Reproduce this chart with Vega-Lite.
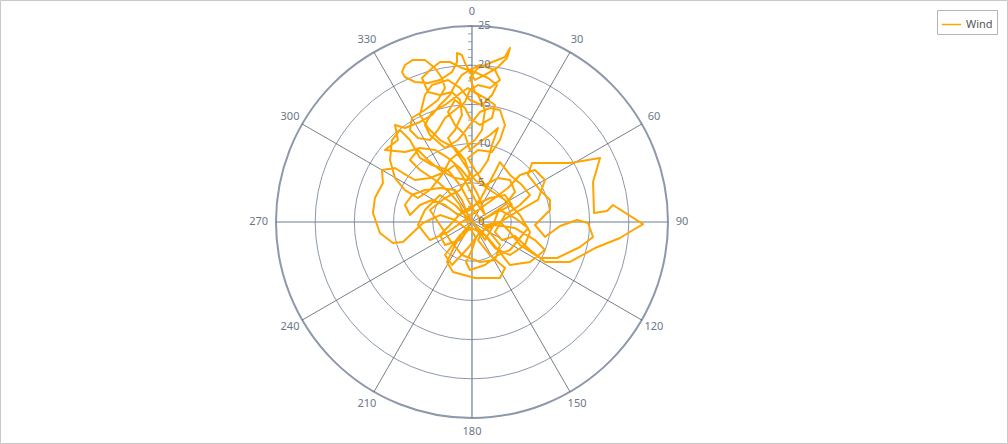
{
"$schema": "https://vega.github.io/schema/vega-lite/v6.json",
"width": 1007, "height": 443,
"autosize": {"type": "none"},
"padding": {"left": 0, "top": 0, "right": 1, "bottom": 1},
"config": {"view": {"stroke": "#c8c8c8", "strokeWidth": 1}, "font": "Noto Sans"},
"datasets": {
"rings": [{"r": 5}, {"r": 10}, {"r": 15}, {"r": 20}, {"r": 25}],
"spokes": [
{"a": 0, "x": 0, "y": 25, "x2": 0, "y2": -25},
{"a": 30, "x": 12.5, "y": 21.65, "x2": -12.5, "y2": -21.65},
{"a": 60, "x": 21.65, "y": 12.5, "x2": -21.65, "y2": -12.5},
{"a": 90, "x": 25, "y": 0, "x2": -25, "y2": 0},
{"a": 120, "x": 21.65, "y": -12.5, "x2": -21.65, "y2": 12.5},
{"a": 150, "x": 12.5, "y": -21.65, "x2": -12.5, "y2": 21.65}
],
"ticks": [{"v":1},{"v":2},{"v":3},{"v":4},{"v":5},{"v":6},{"v":7},{"v":8},{"v":9},{"v":10},{"v":11},{"v":12},{"v":13},{"v":14},{"v":15},{"v":16},{"v":17},{"v":18},{"v":19},{"v":20},{"v":21},{"v":22},{"v":23},{"v":24},{"v":25}],
"rlabels": [{"v": 0, "t": "0"}, {"v": 5, "t": "5"}, {"v": 10, "t": "10"}, {"v": 15, "t": "15"}, {"v": 20, "t": "20"}, {"v": 25, "t": "25"}],
"alabels": [
{"x": 0, "y": 26.8, "t": "0"},
{"x": 13.4, "y": 23.21, "t": "30"},
{"x": 23.21, "y": 13.4, "t": "60"},
{"x": 26.8, "y": 0, "t": "90"},
{"x": 23.21, "y": -13.4, "t": "120"},
{"x": 13.4, "y": -23.21, "t": "150"},
{"x": 0, "y": -26.8, "t": "180"},
{"x": -13.4, "y": -23.21, "t": "210"},
{"x": -23.21, "y": -13.4, "t": "240"},
{"x": -27.2, "y": 0, "t": "270"},
{"x": -23.21, "y": 13.4, "t": "300"},
{"x": -13.4, "y": 23.21, "t": "330"}
],
"wind": [
{"u":-0.26,"v":-0.38},{"u":-1.15,"v":-1.28},{"u":-2.17,"v":-2.93},{"u":-3.19,"v":-5.10},{"u":-2.42,"v":-6.38},
{"u":0.38,"v":-7.14},{"u":3.57,"v":-7.14},{"u":4.21,"v":-5.87},{"u":2.30,"v":-4.21},{"u":0.77,"v":-2.30},
{"u":1.66,"v":-0.77},{"u":3.57,"v":0},{"u":4.85,"v":-1.28},{"u":6.12,"v":-2.93},{"u":8.68,"v":-4.59},
{"u":10.85,"v":-4.59},{"u":13.78,"v":-3.19},{"u":15.44,"v":-1.91},{"u":14.80,"v":-0.13},{"u":13.40,"v":0.26},
{"u":11.23,"v":-0.51},{"u":9.31,"v":-1.91},{"u":8.04,"v":-0.38},{"u":9.95,"v":1.53},{"u":9.95,"v":2.81},
{"u":8.68,"v":4.08},{"u":7.14,"v":6.00},{"u":7.65,"v":7.53},{"u":12.50,"v":7.53},{"u":16.33,"v":8.17},
{"u":15.44,"v":5.10},{"u":15.57,"v":1.15},{"u":17.22,"v":1.40},{"u":17.99,"v":2.17},{"u":21.82,"v":-0.26},
{"u":20.54,"v":-1.02},{"u":18.88,"v":-2.04},{"u":15.69,"v":-3.32},{"u":12.50,"v":-5.10},{"u":9.31,"v":-5.10},
{"u":7.40,"v":-3.57},{"u":5.49,"v":-1.79},{"u":3.83,"v":-2.30},{"u":2.93,"v":-1.28},{"u":4.21,"v":0.89},
{"u":6.12,"v":2.17},{"u":7.40,"v":3.44},{"u":6.38,"v":4.72},{"u":4.85,"v":6.00},{"u":3.57,"v":7.65},
{"u":2.93,"v":6.38},{"u":2.04,"v":4.72},{"u":1.02,"v":2.81},{"u":-0.26,"v":1.53},{"u":-1.79,"v":0.89},
{"u":-3.44,"v":2.17},{"u":-5.10,"v":2.81},{"u":-6.63,"v":2.17},{"u":-7.91,"v":0.89},{"u":-8.55,"v":2.17},
{"u":-7.65,"v":3.44},{"u":-6.00,"v":4.08},{"u":-4.08,"v":4.34},{"u":-2.17,"v":4.08},{"u":-1.28,"v":2.81},
{"u":-0.51,"v":0.89},{"u":0.38,"v":-0.38},{"u":1.66,"v":-2.30},{"u":2.55,"v":-0.77},{"u":3.32,"v":1.28},
{"u":5.10,"v":2.17},{"u":4.21,"v":3.44},{"u":2.30,"v":3.06},{"u":0.38,"v":2.17},{"u":-1.28,"v":1.28},
{"u":-2.81,"v":-0.38},{"u":-4.08,"v":-1.66},{"u":-3.44,"v":-2.93},{"u":-1.53,"v":-2.30},{"u":-0.51,"v":-1.02},
{"u":-2.17,"v":0.26},{"u":-4.08,"v":0.89},{"u":-6.25,"v":-0.13},{"u":-8.80,"v":-2.55},{"u":-10.08,"v":-2.68},
{"u":-11.74,"v":-1.40},{"u":-12.63,"v":1.15},{"u":-12.38,"v":3.06},{"u":-11.36,"v":4.98},{"u":-11.48,"v":6.63},
{"u":-9.82,"v":6.89},{"u":-8.80,"v":6.25},{"u":-7.27,"v":5.36},{"u":-5.36,"v":5.61},{"u":-3.44,"v":6.38},
{"u":-2.17,"v":7.27},{"u":-1.28,"v":6.00},{"u":-0.26,"v":4.08},{"u":0.77,"v":2.17},{"u":1.66,"v":0.89},
{"u":0.77,"v":3.44},{"u":-0.26,"v":5.36},{"u":-1.53,"v":6.89},{"u":-3.06,"v":8.17},{"u":-4.72,"v":9.19},
{"u":-6.63,"v":9.44},{"u":-8.55,"v":8.93},{"u":-11.10,"v":9.19},{"u":-9.44,"v":10.46},{"u":-9.82,"v":12.38},
{"u":-8.55,"v":11.99},{"u":-6.63,"v":12.76},{"u":-5.10,"v":13.65},{"u":-4.08,"v":14.93},{"u":-2.81,"v":16.20},
{"u":-2.17,"v":17.48},{"u":-1.28,"v":18.76},{"u":-0.26,"v":19.39},{"u":1.02,"v":20.03},{"u":2.93,"v":19.39},
{"u":3.57,"v":18.12},{"u":2.30,"v":17.10},{"u":0.77,"v":17.48},{"u":-0.26,"v":16.84},{"u":-0.89,"v":15.31},
{"u":-2.17,"v":14.29},{"u":-3.44,"v":13.27},{"u":-4.34,"v":11.74},{"u":-5.36,"v":10.46},{"u":-6.89,"v":10.72},
{"u":-7.91,"v":11.74},{"u":-7.65,"v":13.27},{"u":-6.00,"v":14.29},{"u":-4.34,"v":15.57},{"u":-3.44,"v":17.10},
{"u":-3.83,"v":18.37},{"u":-4.72,"v":19.65},{"u":-6.00,"v":20.67},{"u":-7.53,"v":20.67},{"u":-8.55,"v":20.03},
{"u":-8.93,"v":19.13},{"u":-8.55,"v":18.50},{"u":-7.27,"v":17.86},{"u":-5.61,"v":17.74},{"u":-4.08,"v":18.12},
{"u":-2.55,"v":19.13},{"u":-1.91,"v":20.41},{"u":-1.91,"v":21.56},{"u":-1.28,"v":21.30},{"u":-0.89,"v":20.29},
{"u":-0.26,"v":19.13},{"u":0.38,"v":18.12},{"u":1.66,"v":18.76},{"u":3.19,"v":19.65},{"u":4.47,"v":20.92},
{"u":4.85,"v":22.20},{"u":4.21,"v":21.05},{"u":2.30,"v":20.29},{"u":0.77,"v":19.65},{"u":-0.26,"v":18.37},
{"u":0.38,"v":16.58},{"u":2.04,"v":15.57},{"u":2.93,"v":14.93},{"u":2.55,"v":13.27},{"u":1.02,"v":12.38},
{"u":-0.26,"v":13.27},{"u":-0.89,"v":14.54},{"u":-2.17,"v":15.57},{"u":-3.06,"v":14.03},{"u":-2.17,"v":12.38},
{"u":-0.89,"v":11.10},{"u":-0.26,"v":9.19},{"u":1.02,"v":10.20},{"u":2.30,"v":11.10},{"u":3.32,"v":11.99},
{"u":2.55,"v":9.82},{"u":2.04,"v":7.91},{"u":1.02,"v":6.38},{"u":-0.51,"v":5.36},{"u":-2.17,"v":5.61},
{"u":-4.08,"v":6.63},{"u":-5.61,"v":7.91},{"u":-6.89,"v":9.19},{"u":-7.91,"v":7.91},{"u":-6.63,"v":6.63},
{"u":-4.34,"v":5.10},{"u":-2.55,"v":3.44},{"u":-1.53,"v":2.17},{"u":-0.77,"v":0.51},{"u":-0.26,"v":-0.77},
{"u":0.51,"v":-2.04},{"u":0,"v":-3.57},{"u":-0.77,"v":-5.10},{"u":-0.26,"v":-6.12},{"u":1.66,"v":-5.49},
{"u":3.32,"v":-4.21},{"u":4.85,"v":-3.57},{"u":6.12,"v":-2.04},{"u":7.14,"v":-0.77},{"u":5.49,"v":0.51},
{"u":3.57,"v":1.53},{"u":1.79,"v":0.51},{"u":0.77,"v":0},
{"u":2.30,"v":0.89},{"u":4.21,"v":2.17},{"u":5.49,"v":3.83},{"u":4.85,"v":5.36},{"u":3.32,"v":5.61},
{"u":1.66,"v":4.72},{"u":0.38,"v":6.63},{"u":-0.51,"v":8.17},{"u":0.77,"v":9.19},{"u":2.55,"v":8.93},
{"u":3.57,"v":10.46},{"u":4.21,"v":12.38},{"u":3.57,"v":14.29},{"u":2.30,"v":14.54},{"u":1.02,"v":14.03},
{"u":-0.26,"v":12.38},{"u":-1.79,"v":10.46},{"u":-3.44,"v":9.44},{"u":-5.36,"v":11.10},{"u":-6.00,"v":12.38},
{"u":-5.10,"v":14.03},{"u":-3.44,"v":14.93},{"u":-1.79,"v":16.20},{"u":-0.51,"v":17.10},{"u":0.77,"v":16.20},
{"u":1.66,"v":14.29},{"u":1.28,"v":11.74},{"u":0.38,"v":10.46},{"u":-1.28,"v":9.19},{"u":-2.81,"v":7.91},
{"u":-3.83,"v":6.00},{"u":-5.36,"v":4.08},{"u":-6.89,"v":3.06},{"u":-8.55,"v":4.08},{"u":-9.82,"v":5.61},
{"u":-10.46,"v":7.91},{"u":-10.20,"v":10.46},{"u":-9.18,"v":11.74},{"u":-7.91,"v":10.46},{"u":-6.63,"v":8.17},
{"u":-5.10,"v":7.27},{"u":-3.06,"v":6.63},{"u":-1.53,"v":4.72},{"u":-0.51,"v":2.81},{"u":0.38,"v":1.28},
{"u":2.04,"v":-1.02},{"u":3.57,"v":-2.93},{"u":2.93,"v":-4.85},{"u":1.02,"v":-5.10},{"u":-1.28,"v":-4.21},
{"u":-2.81,"v":-2.30},{"u":-4.08,"v":-0.38},{"u":-5.36,"v":1.53},{"u":-3.44,"v":3.06},{"u":-1.53,"v":4.08},
{"u":-0.26,"v":6.00},{"u":-0.89,"v":7.91},{"u":-2.17,"v":9.44},{"u":-4.08,"v":10.46},{"u":-5.61,"v":11.99},
{"u":-6.63,"v":13.65},{"u":-6.00,"v":16.20},{"u":-5.10,"v":17.48},{"u":-3.06,"v":18.12},{"u":-1.53,"v":17.10},
{"u":-0.26,"v":15.56},{"u":1.28,"v":14.92},{"u":2.55,"v":16.20},{"u":3.19,"v":17.48},{"u":2.04,"v":18.37},
{"u":0.38,"v":19.13},{"u":-1.28,"v":19.64},{"u":-2.81,"v":20.41},{"u":-4.08,"v":20.41},{"u":-5.36,"v":19.39},
{"u":-6.38,"v":18.37},{"u":-5.61,"v":16.58},{"u":-4.08,"v":16.20},{"u":-2.55,"v":16.58},{"u":-1.53,"v":15.56},
{"u":-1.28,"v":13.65},{"u":-2.17,"v":11.74},{"u":-3.06,"v":10.71},{"u":-2.17,"v":9.18},{"u":-0.89,"v":7.27},
{"u":0.38,"v":5.36},{"u":2.30,"v":4.08},{"u":4.21,"v":2.81},{"u":6.12,"v":0.89},{"u":7.40,"v":-1.28},
{"u":6.76,"v":-2.93},{"u":4.85,"v":-4.21},{"u":2.93,"v":-3.32},{"u":1.66,"v":-1.66},{"u":0,"v":-0.77},
{"u":-1.53,"v":-1.66},{"u":-3.44,"v":-4.21},{"u":-2.55,"v":-5.49},{"u":-0.51,"v":-3.32},{"u":1.02,"v":-1.28},
{"u":2.93,"v":-0.38},{"u":5.49,"v":-0.77},{"u":8.04,"v":-2.30},{"u":9.31,"v":-3.57},{"u":7.40,"v":-5.10},
{"u":4.85,"v":-5.49},{"u":3.32,"v":-3.57},{"u":2.04,"v":-2.04},{"u":-0.26,"v":0.26},{"u":-2.17,"v":2.17},
{"u":-4.08,"v":3.44},{"u":-6.00,"v":1.53},{"u":-6.89,"v":-0.38},{"u":-5.36,"v":-2.30},{"u":-3.06,"v":-1.28},
{"u":-1.28,"v":0},{"u":0.77,"v":1.53},{"u":2.55,"v":2.81},{"u":4.59,"v":4.34},{"u":6.12,"v":6.00},
{"u":8.04,"v":6.63},{"u":9.31,"v":5.36},{"u":8.42,"v":2.81},{"u":6.12,"v":1.53},{"u":3.57,"v":0},
{"u":1.28,"v":-0.51}
]
},
"layer": [
{
"data": {"name": "rings"},
"transform": [{"filter": "datum.r < 25"}],
"mark": {"type": "arc", "filled": false, "fill": null, "stroke": "#8d98ab", "strokeWidth": 1, "theta": 0, "theta2": 6.2832},
"encoding": {
"x": {"datum": 0, "type": "quantitative", "scale": {"domain": [-60.2, 68.24], "nice": false, "zero": false}, "axis": null},
"y": {"datum": 0, "type": "quantitative", "scale": {"domain": [-28.19, 28.32], "nice": false, "zero": false}, "axis": null},
"radius": {"field": "r", "type": "quantitative", "stack": null, "scale": {"type": "linear", "domain": [0, 25], "range": [0, 196], "zero": true}}
}
},
{
"data": {"name": "rings"},
"transform": [{"filter": "datum.r == 25"}],
"mark": {"type": "arc", "filled": false, "fill": null, "stroke": "#8d98ab", "strokeWidth": 2, "theta": 0, "theta2": 6.2832},
"encoding": {
"x": {"datum": 0, "type": "quantitative", "scale": {"domain": [-60.2, 68.24], "nice": false, "zero": false}, "axis": null},
"y": {"datum": 0, "type": "quantitative", "scale": {"domain": [-28.19, 28.32], "nice": false, "zero": false}, "axis": null},
"radius": {"field": "r", "type": "quantitative", "stack": null, "scale": {"type": "linear", "domain": [0, 25], "range": [0, 196], "zero": true}}
}
},
{
"data": {"name": "spokes"},
"transform": [{"filter": "datum.a % 90 != 0"}],
"mark": {"type": "rule", "stroke": "#3f4856", "strokeWidth": 0.7},
"encoding": {
"x": {"field": "x", "type": "quantitative", "scale": {"domain": [-60.2, 68.24], "nice": false, "zero": false}, "axis": null},
"y": {"field": "y", "type": "quantitative", "scale": {"domain": [-28.19, 28.32], "nice": false, "zero": false}, "axis": null},
"x2": {"field": "x2"},
"y2": {"field": "y2"}
}
},
{
"data": {"name": "spokes"},
"transform": [{"filter": "datum.a % 90 == 0"}],
"mark": {"type": "rule", "stroke": "#6f7e94", "strokeWidth": 1.2},
"encoding": {
"x": {"field": "x", "type": "quantitative", "scale": {"domain": [-60.2, 68.24], "nice": false, "zero": false}, "axis": null},
"y": {"field": "y", "type": "quantitative", "scale": {"domain": [-28.19, 28.32], "nice": false, "zero": false}, "axis": null},
"x2": {"field": "x2"},
"y2": {"field": "y2"}
}
},
{
"data": {"name": "ticks"},
"mark": {"type": "tick", "orient": "horizontal", "size": 4, "thickness": 1, "xOffset": -2, "color": "#6f7e94"},
"encoding": {
"x": {"datum": 0, "type": "quantitative", "scale": {"domain": [-60.2, 68.24], "nice": false, "zero": false}, "axis": null},
"y": {"field": "v", "type": "quantitative", "scale": {"domain": [-28.19, 28.32], "nice": false, "zero": false}, "axis": null}
}
},
{
"data": {"name": "wind"},
"mark": {"type": "line", "strokeWidth": 2, "strokeJoin": "round"},
"encoding": {
"x": {"field": "u", "type": "quantitative", "scale": {"domain": [-60.2, 68.24], "nice": false, "zero": false}, "axis": null},
"y": {"field": "v", "type": "quantitative", "scale": {"domain": [-28.19, 28.32], "nice": false, "zero": false}, "axis": null},
"order": {"value": null},
"color": {"datum": "Wind", "type": "nominal", "scale": {"range": ["#ffa500"]},
  "legend": {"title": null, "orient": "top-right", "offset": 10, "symbolType": "stroke", "symbolSize": 380, "symbolStrokeWidth": 1.5, "strokeColor": "#b4b4b4", "padding": 4, "labelFont": "Noto Sans", "labelFontSize": 11, "labelColor": "#555555", "cornerRadius": 0}}
}
},
{
"data": {"name": "rlabels"},
"mark": {"type": "text", "align": "left", "baseline": "middle", "dx": 6, "fontSize": 11, "color": "#6b778a"},
"encoding": {
"x": {"datum": 0, "type": "quantitative", "scale": {"domain": [-60.2, 68.24], "nice": false, "zero": false}, "axis": null},
"y": {"field": "v", "type": "quantitative", "scale": {"domain": [-28.19, 28.32], "nice": false, "zero": false}, "axis": null},
"text": {"field": "t"}
}
},
{
"data": {"name": "alabels"},
"mark": {"type": "text", "align": "center", "baseline": "middle", "fontSize": 11, "color": "#6b778a"},
"encoding": {
"x": {"field": "x", "type": "quantitative", "scale": {"domain": [-60.2, 68.24], "nice": false, "zero": false}, "axis": null},
"y": {"field": "y", "type": "quantitative", "scale": {"domain": [-28.19, 28.32], "nice": false, "zero": false}, "axis": null},
"text": {"field": "t"}
}
}
]
}
